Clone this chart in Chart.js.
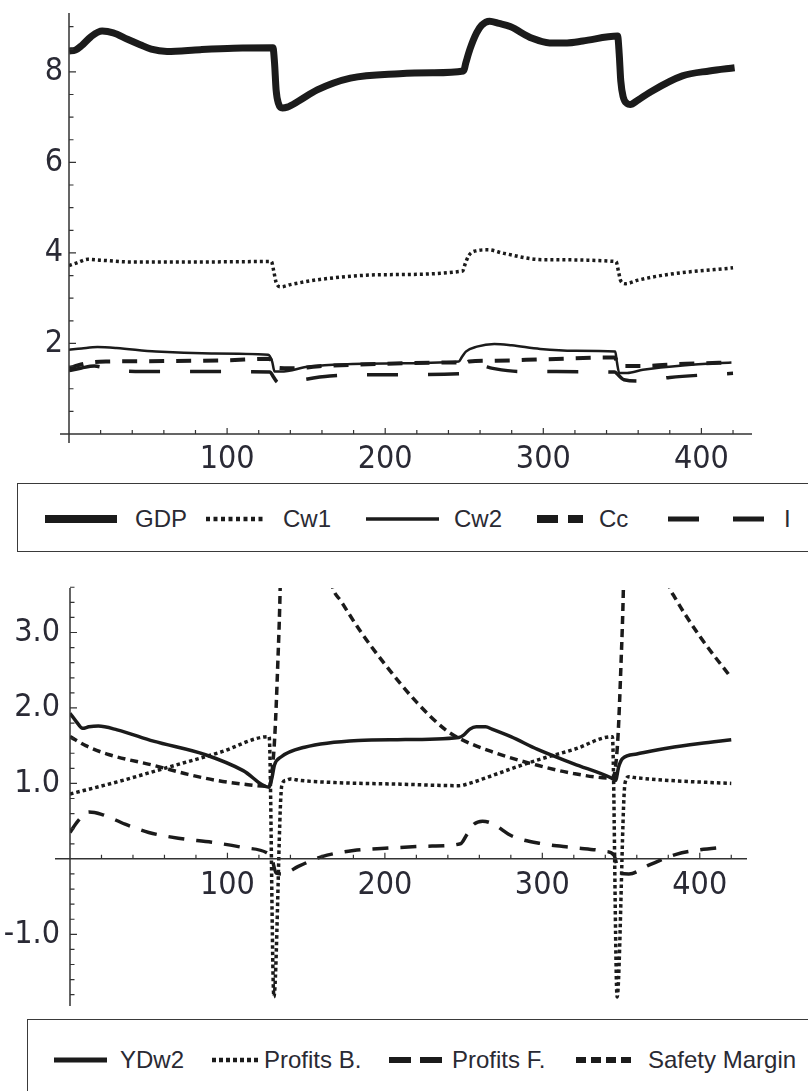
<!DOCTYPE html>
<html>
<head>
<meta charset="utf-8">
<script src="https://cdn.jsdelivr.net/npm/chart.js@4.4.1/dist/chart.umd.min.js"></script>
<style>
html, body { margin: 0; padding: 0; width: 808px; height: 1091px; overflow: hidden; background: #fff; }
canvas { position: absolute; left: 0; }
#topChart { top: 0; }
#bottomChart { top: 570px; }
.legend { position: absolute; border: 1.5px solid #3a3a3a; background: #fff;
  font-family: 'Liberation Sans', Arial, sans-serif; font-size: 24px; color: #2a2a33; }
.legend span { position: absolute; line-height: 1; white-space: nowrap; transform: translateY(-50%); }
.legend svg { position: absolute; overflow: visible; }
</style>
</head>
<body>
<canvas id="topChart" width="808" height="480"></canvas>
<div class="legend" id="topLegend" style="left:17px; top:483px; width:820px; height:67px;"></div>
<canvas id="bottomChart" width="808" height="450"></canvas>
<div class="legend" id="bottomLegend" style="left:27px; top:1019px; width:820px; height:120px;"></div>
<script>
// --- datos del grafico superior ---
const topNames = ['GDP', 'Cw1', 'Cw2', 'Cc', 'I'];

const gdpX = [0, 4, 8, 14, 21, 28, 37, 45, 52, 62, 83, 104, 129, 130, 131, 132.5, 135, 138, 145, 157, 178, 209, 230, 249.5, 251, 253.6, 257.8, 261, 266, 272, 279, 293, 304, 315, 325, 347, 348, 349, 350.5, 353, 355, 360, 367, 388, 405, 421];
const gdpY = [8.46, 8.48, 8.58, 8.78, 8.9, 8.86, 8.72, 8.6, 8.5, 8.45, 8.49, 8.52, 8.53, 8.2, 7.6, 7.3, 7.2, 7.22, 7.35, 7.6, 7.86, 7.96, 7.98, 8.02, 8.2, 8.5, 8.86, 9.03, 9.12, 9.07, 9.0, 8.74, 8.64, 8.64, 8.68, 8.79, 8.4, 7.8, 7.45, 7.3, 7.28, 7.38, 7.54, 7.91, 8.02, 8.09];

const cw1X = [0, 5, 12, 20, 40, 80, 128, 129.5, 131, 134, 140, 160, 200, 249, 250.5, 253, 258, 265, 275, 300, 346, 347.5, 349, 352, 360, 380, 420];
const cw1Y = [3.72, 3.78, 3.86, 3.84, 3.8, 3.8, 3.81, 3.6, 3.35, 3.25, 3.3, 3.42, 3.52, 3.6, 3.75, 3.95, 4.05, 4.07, 3.99, 3.85, 3.81, 3.6, 3.38, 3.32, 3.4, 3.53, 3.67];

const cw2X = [0, 8, 18, 30, 55, 90, 126, 128.5, 130, 134, 152, 201, 246.5, 248.5, 251, 258, 269, 280, 298, 320, 345.5, 346.5, 348, 353, 363, 390, 419];
const cw2Y = [1.86, 1.89, 1.92, 1.9, 1.82, 1.78, 1.75, 1.6, 1.38, 1.38, 1.49, 1.56, 1.6, 1.7, 1.82, 1.93, 1.99, 1.96, 1.88, 1.84, 1.82, 1.6, 1.35, 1.35, 1.42, 1.52, 1.58];

const ccX = [0, 6, 14, 25, 60, 100, 127, 129.5, 132, 140, 160, 200, 247, 250, 253, 270, 300, 345, 347.5, 350, 360, 390, 420];
const ccY = [1.45, 1.52, 1.58, 1.6, 1.61, 1.63, 1.66, 1.52, 1.46, 1.45, 1.5, 1.55, 1.58, 1.55, 1.6, 1.62, 1.65, 1.69, 1.55, 1.5, 1.5, 1.55, 1.58];

const invX = [0, 8, 16, 30, 60, 127, 129.5, 132, 136, 145, 165, 200, 247, 249.5, 253, 259, 268, 285, 345, 347.5, 351, 362, 380, 420];
const invY = [1.4, 1.46, 1.5, 1.4, 1.38, 1.37, 1.25, 1.14, 1.12, 1.18, 1.28, 1.31, 1.33, 1.36, 1.45, 1.52, 1.45, 1.38, 1.37, 1.3, 1.2, 1.17, 1.25, 1.34];

const topXLabels = [100, 200, 300, 400];
const topYLabels = [2, 4, 6, 8];

// --- datos del grafico inferior ---
const bottomNames = ['YDw2', 'Profits B.', 'Profits F.', 'Safety Margin'];

const ydX = [0, 4, 8, 12, 18, 30, 53, 86, 110, 126.5, 128, 130, 134, 149, 183, 208, 247, 250, 254, 258, 264, 268, 280, 297, 320, 344, 346.5, 348.5, 351, 360, 380, 400, 420];
const ydY = [1.93, 1.82, 1.73, 1.75, 1.76, 1.71, 1.56, 1.38, 1.17, 0.95, 1.05, 1.25, 1.35, 1.48, 1.57, 1.58, 1.61, 1.64, 1.72, 1.75, 1.75, 1.72, 1.62, 1.45, 1.26, 1.07, 1.04, 1.22, 1.33, 1.39, 1.47, 1.53, 1.58];

const pbX = [0, 30, 60, 95, 126.5, 129.5, 134.5, 137, 140, 146, 170, 210, 247, 252, 265, 281, 300, 320, 344.5, 347.5, 352.5, 355, 358, 380, 420];
const pbY = [0.86, 1.02, 1.2, 1.41, 1.62, -1.83, 0.97, 1.04, 1.06, 1.04, 1.01, 0.99, 0.97, 0.99, 1.08, 1.2, 1.33, 1.45, 1.62, -1.83, 1.0, 1.09, 1.08, 1.04, 1.0];

const pfX = [0, 5, 12, 20, 35, 50, 70, 90, 110, 125, 128, 131, 135, 145, 160, 180, 200, 230, 248, 252, 256, 262, 268, 281, 300, 320, 340, 345.5, 349, 355, 368, 385, 400, 418];
const pfY = [0.35, 0.5, 0.62, 0.59, 0.46, 0.35, 0.27, 0.22, 0.15, 0.08, 0.02, -0.19, -0.2, -0.1, 0.03, 0.11, 0.14, 0.17, 0.2, 0.32, 0.45, 0.5, 0.47, 0.3, 0.2, 0.15, 0.1, 0.05, -0.19, -0.2, -0.08, 0.06, 0.12, 0.16];

const smX = [0, 10, 25, 53, 75, 93, 110, 126.5, 128, 130, 132, 133.5, 135, 150, 160, 167, 172, 185, 200, 220, 238, 247, 268, 297, 320, 344.5, 346, 348, 350, 351.5, 353, 365, 376, 381, 384, 400, 420];
const smY = [1.62, 1.5, 1.38, 1.24, 1.12, 1.04, 0.99, 0.96, 1.1, 1.6, 2.6, 3.6, 5.5, 5.2, 4.3, 3.59, 3.42, 3.0, 2.58, 2.08, 1.72, 1.6, 1.42, 1.24, 1.13, 1.07, 1.15, 1.6, 2.6, 3.6, 5.5, 5.0, 4.0, 3.59, 3.47, 2.95, 2.4];

const bottomXLabels = [100, 200, 300, 400];
const bottomYLabels = [-1, 1, 2, 3];

// --- estilos ---
const ink = '#1b1b1b';
const tickFont = { family: "'Liberation Sans Narrow', 'DejaVu Sans Condensed', sans-serif", size: 32 };
const tickColor = '#2a2a35';

const topStyles = [
  { w: 7, dash: [], lw: 8, ldash: [] },
  { w: 3.5, dash: [3, 3], lw: 4.5, ldash: [4, 3.5] },
  { w: 2.5, dash: [], lw: 3.5, ldash: [] },
  { w: 4, dash: [15, 12], lw: 8, ldash: [21, 10] },
  { w: 3.5, dash: [31, 30], lw: 5, ldash: [31, 34] }
];
const bottomStyles = [
  { w: 3.5, dash: [], lw: 5, ldash: [] },
  { w: 3.5, dash: [3.5, 3], lw: 4.5, ldash: [4, 3] },
  { w: 3.5, dash: [16, 12], lw: 6, ldash: [22, 9] },
  { w: 3.5, dash: [8, 5], lw: 6, ldash: [10, 5] }
];

// Ejes estilo Mathematica: lineas que se cruzan en el origen y marcas hacia dentro
const mmaAxes = {
  id: 'mmaAxes',
  afterDatasetsDraw(chart, args, o) {
    const { ctx, chartArea: a, scales: { x, y } } = chart;
    const ox = x.getPixelForValue(0);
    const oy = y.getPixelForValue(0);
    ctx.save();
    ctx.strokeStyle = '#333';
    ctx.lineWidth = 1.5;
    ctx.beginPath();
    ctx.moveTo(ox - o.xLead, oy);
    ctx.lineTo(a.right, oy);
    ctx.moveTo(ox, a.top);
    ctx.lineTo(ox, Math.max(a.bottom, oy + o.yTail));
    ctx.stroke();

    ctx.lineWidth = 1.2;
    ctx.beginPath();
    for (let i = 1; i * o.xStep <= o.xLast; i++) {
      const v = i * o.xStep;
      const px = x.getPixelForValue(v);
      const len = o.xMajor.includes(v) ? 6 : 4;
      ctx.moveTo(px, oy);
      ctx.lineTo(px, oy - len);
    }
    for (let i = o.yFirst; i <= o.yLast; i++) {
      if (i === 0) continue;
      const v = +(i * o.yStep).toFixed(3);
      const py = y.getPixelForValue(v);
      const len = o.yMajor.includes(v) ? 7 : 4.5;
      ctx.moveTo(ox, py);
      ctx.lineTo(ox + len, py);
    }
    ctx.stroke();
    ctx.restore();
  }
};

function series(xs, ys) {
  return xs.map((x, i) => ({ x: x, y: ys[i] }));
}

function makeDatasets(names, xs, ys, styles) {
  return names.map((name, i) => ({
    label: name,
    data: series(xs[i], ys[i]),
    borderColor: ink,
    borderWidth: styles[i].w,
    borderDash: styles[i].dash,
    borderCapStyle: 'butt',
    pointRadius: 0,
    cubicInterpolationMode: 'monotone',
    fill: false
  }));
}

// sin relleno automatico alrededor de las etiquetas
function noPad(s) {
  s.paddingTop = 0;
  s.paddingBottom = 0;
  s.paddingLeft = 0;
  s.paddingRight = 0;
}

// Grafico superior
new Chart(document.getElementById('topChart'), {
  type: 'line',
  data: {
    datasets: makeDatasets(topNames,
      [gdpX, cw1X, cw2X, ccX, invX],
      [gdpY, cw1Y, cw2Y, ccY, invY], topStyles)
  },
  options: {
    responsive: false,
    animation: false,
    layout: { padding: { top: 13, right: 56, left: 0, bottom: 0 } },
    plugins: {
      legend: { display: false },
      tooltip: { enabled: false },
      mmaAxes: { xLead: 9, yTail: 9, xStep: 20, xLast: 420, xMajor: topXLabels,
                 yStep: 0.5, yFirst: 1, yLast: 18, yMajor: topYLabels }
    },
    scales: {
      x: {
        type: 'linear', min: 0, max: 432,
        grid: { display: false, drawTicks: false }, border: { display: false },
        afterFit: s => { s.height = 46; noPad(s); },
        afterBuildTicks: s => { s.ticks = topXLabels.map(v => ({ value: v })); },
        ticks: { autoSkip: false, maxRotation: 0, padding: 6, font: tickFont, color: tickColor }
      },
      y: {
        type: 'linear', min: 0, max: 9.3,
        grid: { display: false, drawTicks: false }, border: { display: false },
        afterFit: s => { s.width = 69; noPad(s); },
        afterBuildTicks: s => { s.ticks = topYLabels.map(v => ({ value: v })); },
        ticks: { padding: 6, font: tickFont, color: tickColor, callback: v => String(v) }
      }
    }
  },
  plugins: [mmaAxes]
});

// Grafico inferior
new Chart(document.getElementById('bottomChart'), {
  type: 'line',
  data: {
    datasets: makeDatasets(bottomNames,
      [ydX, pbX, pfX, smX],
      [ydY, pbY, pfY, smY], bottomStyles)
  },
  options: {
    responsive: false,
    animation: false,
    layout: { padding: { top: 18, right: 61, left: 0, bottom: 14 } },
    plugins: {
      legend: { display: false },
      tooltip: { enabled: false },
      mmaAxes: { xLead: 15, yTail: 0, xStep: 20, xLast: 420, xMajor: bottomXLabels,
                 yStep: 0.2, yFirst: -9, yLast: 18, yMajor: bottomYLabels }
    },
    scales: {
      x: {
        type: 'linear', min: 0, max: 430, position: { y: 0 },
        grid: { display: false, drawTicks: false }, border: { display: false },
        afterFit: s => { s.height = 0; noPad(s); },
        afterBuildTicks: s => { s.ticks = bottomXLabels.map(v => ({ value: v })); },
        ticks: { autoSkip: false, maxRotation: 0, padding: 8, font: tickFont, color: tickColor }
      },
      y: {
        type: 'linear', min: -1.95, max: 3.59,
        grid: { display: false, drawTicks: false }, border: { display: false },
        afterFit: s => { s.width = 70; noPad(s); },
        afterBuildTicks: s => { s.ticks = bottomYLabels.map(v => ({ value: v })); },
        ticks: { padding: 10, font: tickFont, color: tickColor, callback: v => v.toFixed(1) }
      }
    }
  },
  plugins: [mmaAxes]
});

// Leyendas en HTML
const topSwatch = [[44, 116], [205, 264], [365, 438], [536, 582], [667, 768]];
const topTextX = [134, 282, 453, 598, 783];
const bottomSwatch = [[53, 106], [211, 258], [388, 441], [575, 631]];
const bottomTextX = [119, 263, 451, 647];

function buildLegend(id, names, styles, swatches, textX, boxLeft, midY) {
  const box = document.getElementById(id);
  const ns = 'http://www.w3.org/2000/svg';
  names.forEach((name, i) => {
    const [x0, x1] = swatches[i];
    const svg = document.createElementNS(ns, 'svg');
    const w = x1 - x0;
    svg.setAttribute('width', w);
    svg.setAttribute('height', 12);
    svg.style.left = (x0 - boxLeft) + 'px';
    svg.style.top = (midY - 6) + 'px';
    const line = document.createElementNS(ns, 'line');
    line.setAttribute('x1', 0);
    line.setAttribute('x2', w);
    line.setAttribute('y1', 6);
    line.setAttribute('y2', 6);
    line.setAttribute('stroke', ink);
    line.setAttribute('stroke-width', styles[i].lw);
    if (styles[i].ldash.length) line.setAttribute('stroke-dasharray', styles[i].ldash.join(' '));
    svg.appendChild(line);
    box.appendChild(svg);

    const span = document.createElement('span');
    span.textContent = name;
    span.style.left = (textX[i] - boxLeft) + 'px';
    span.style.top = midY + 'px';
    box.appendChild(span);
  });
}

buildLegend('topLegend', topNames, topStyles, topSwatch, topTextX, 17, 35);
buildLegend('bottomLegend', bottomNames, bottomStyles, bottomSwatch, bottomTextX, 27, 40);
</script>
</body>
</html>
